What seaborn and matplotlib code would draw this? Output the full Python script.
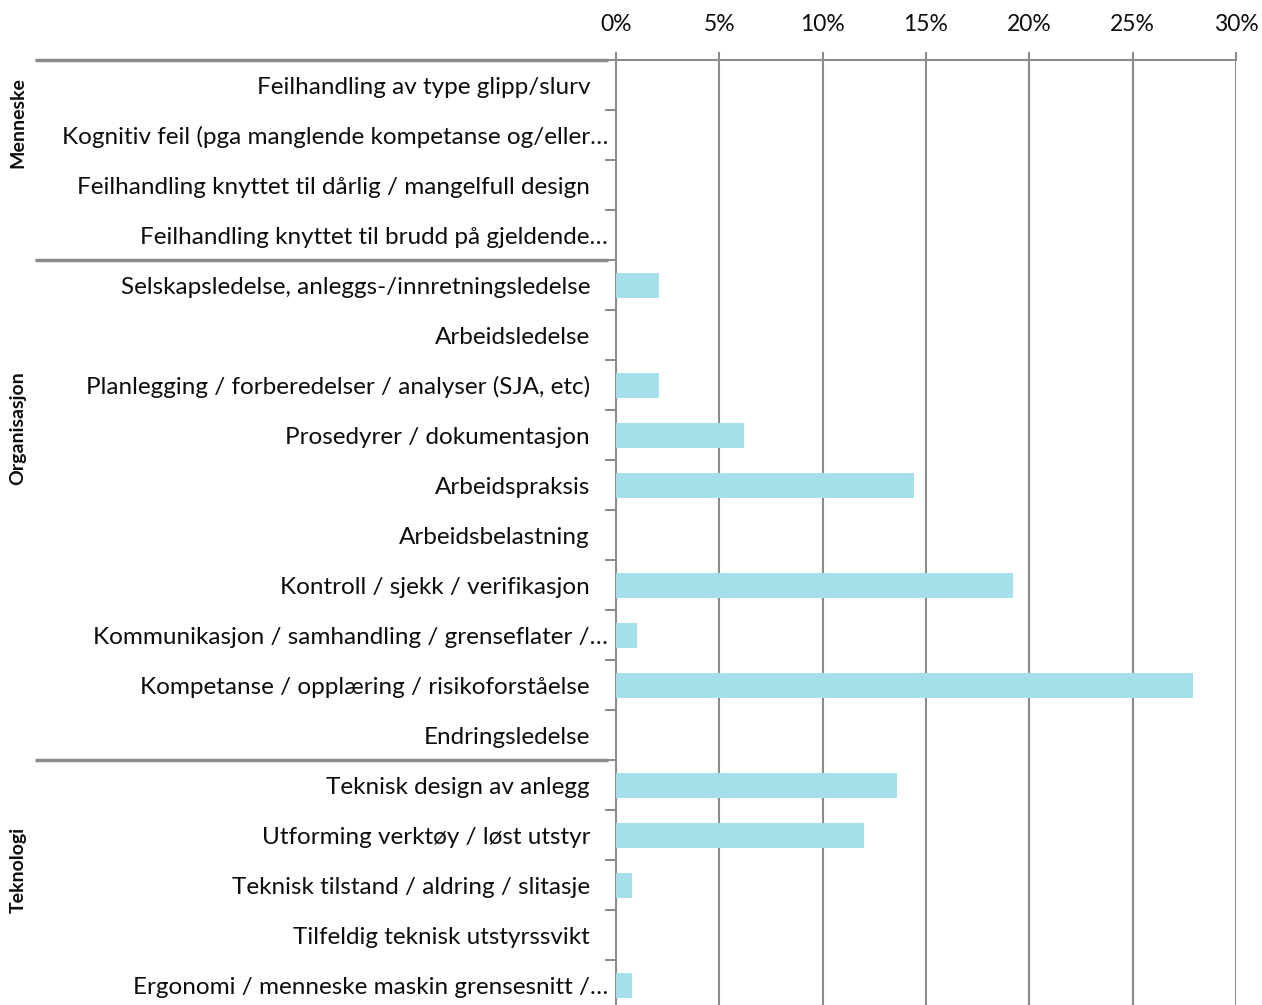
import matplotlib
matplotlib.use("Agg")
import matplotlib.pyplot as plt
import matplotlib.transforms as mtransforms
import numpy as np
import pandas as pd
import seaborn as sns

# Categories (top to bottom), grouped by main cause area
labels = [
    "Feilhandling av type glipp/slurv",
    "Kognitiv feil (pga manglende kompetanse og/eller…",
    "Feilhandling knyttet til dårlig / mangelfull design",
    "Feilhandling knyttet til brudd på gjeldende…",
    "Selskapsledelse, anleggs-/innretningsledelse",
    "Arbeidsledelse",
    "Planlegging / forberedelser / analyser (SJA, etc)",
    "Prosedyrer / dokumentasjon",
    "Arbeidspraksis",
    "Arbeidsbelastning",
    "Kontroll / sjekk / verifikasjon",
    "Kommunikasjon / samhandling / grenseflater /…",
    "Kompetanse / opplæring / risikoforståelse",
    "Endringsledelse",
    "Teknisk design av anlegg",
    "Utforming verktøy / løst utstyr",
    "Teknisk tilstand / aldring / slitasje",
    "Tilfeldig teknisk utstyrssvikt",
    "Ergonomi / menneske maskin grensesnitt /…",
]
shares = [
    0.0, 0.0, 0.0, 0.0,
    2.1, 0.0, 2.1, 6.2, 14.4, 0.0, 19.2, 1.0, 27.9, 0.0,
    13.6, 12.0, 0.75, 0.0, 0.75,
]
groups = ["Menneske", "Organisasjon", "Teknologi"]
group_sizes = [4, 10, 5]
x_ticks = [0, 5, 10, 15, 20, 25, 30]

df = pd.DataFrame({"label": labels, "share": shares})

sns.set_theme(style="white")
plt.rcParams["font.family"] = ["Lato", "DejaVu Sans"]

W, H = 1262, 1005
fig = plt.figure(figsize=(W / 100, H / 100), dpi=100)
ax = fig.add_axes([616 / W, -5 / H, (1236 - 616) / W, 950 / H])

grid_col = "#8C8C8C"
text_col = "#0D0D0D"

sns.barplot(data=df, x="share", y="label", orient="h", color="#A5DFEA",
            saturation=1, width=0.5, linewidth=0, ax=ax, zorder=3)

ax.set_xlim(0, 30)
ax.set_ylim(len(labels) - 0.5, -0.5)
ax.set_xticks(x_ticks)
ax.set_xticklabels([f"{t}%" for t in x_ticks])
ax.xaxis.tick_top()
ax.tick_params(axis="x", which="major", top=True, bottom=False, direction="out",
               length=6, width=1.5, color=grid_col, labelsize=16.5,
               labelcolor=text_col, pad=12)
ax.xaxis.grid(True, color=grid_col, linewidth=1.5, zorder=0)
ax.set_axisbelow(True)
ax.set_xlabel("")
ax.set_ylabel("")

# y labels sit on major ticks; boundary ticks are minor
ax.set_yticks(np.arange(len(labels)))
ax.set_yticklabels(labels)
ax.set_yticks(np.arange(len(labels) + 1) - 0.5, minor=True)
ax.tick_params(axis="y", which="major", length=0, pad=18.7, labelsize=17.5,
               labelcolor=text_col)
ax.tick_params(axis="y", which="minor", left=True, length=8, width=1.5,
               color=grid_col, direction="out")

# truncated labels run closer to the axis
shift = mtransforms.ScaledTranslation(0.18, 0, fig.dpi_scale_trans)
for tick in ax.yaxis.get_major_ticks():
    lab = tick.label1
    if lab.get_text().endswith("…"):
        lab.set_transform(lab.get_transform() + shift)

for side in ["right", "bottom"]:
    ax.spines[side].set_visible(False)
for side in ["left", "top"]:
    ax.spines[side].set_color(grid_col)
    ax.spines[side].set_linewidth(1.5)

# group separators and rotated group names on the left
trans = mtransforms.blended_transform_factory(fig.transFigure, ax.transData)
bounds = np.cumsum([0] + group_sizes) - 0.5
for b in bounds[:-1]:
    ax.plot([35 / W, 608 / W], [b, b], transform=trans, color=grid_col,
            linewidth=2.5, clip_on=False, solid_capstyle="butt")

group_centers = [0.76, 6.86, 15.7]
for name, yc in zip(groups, group_centers):
    ax.text(18 / W, yc, name, transform=trans, rotation=90, ha="center",
            va="center", fontsize=14, fontweight="bold", color=text_col)

fig.savefig("out.png", dpi=100)
